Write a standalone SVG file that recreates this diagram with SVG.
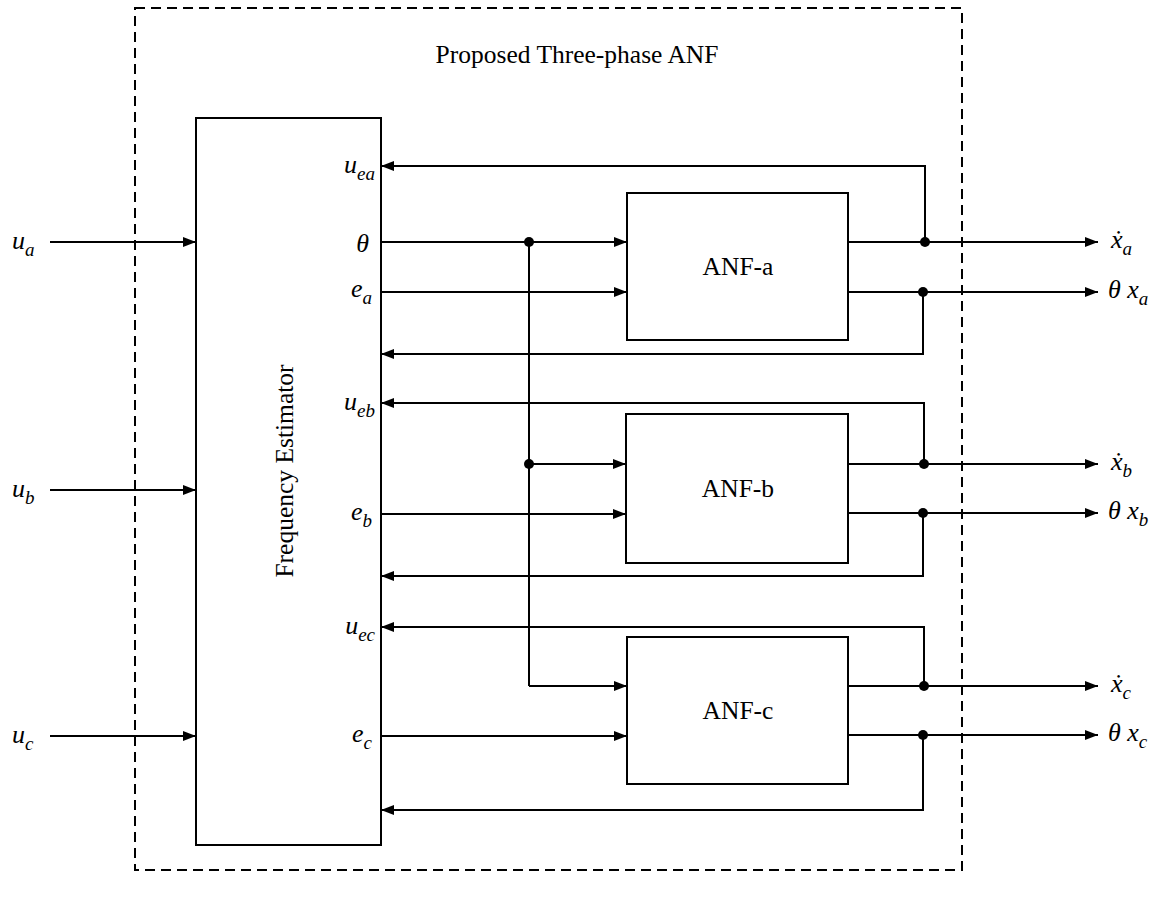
<svg xmlns="http://www.w3.org/2000/svg" width="1161" height="899" viewBox="0 0 1161 899">
<style>
.ln{fill:none;stroke:#000;stroke-width:2}
.bx{fill:#fff;stroke:#000;stroke-width:2}
.ar{marker-end:url(#ah)}
.t{font-family:"Liberation Serif","Times New Roman",serif;font-size:25.5px;fill:#000}
.m{font-family:"Liberation Serif","Times New Roman",serif;font-style:italic;font-size:26px;fill:#000}
.s{font-size:19px}
.e{text-anchor:end}
</style>
<defs>
<marker id="ah" markerUnits="userSpaceOnUse" markerWidth="14" markerHeight="12" refX="13" refY="5" orient="auto">
<path d="M0,0 L13,5 L0,10 z" fill="#000"/>
</marker>
</defs>
<rect width="1161" height="899" fill="#fff"/>
<g id="boundary">
<rect x="135" y="8" width="827" height="862" fill="none" stroke="#000" stroke-width="2" stroke-dasharray="10,6"/>
<text class="t" x="577" y="63" text-anchor="middle">Proposed Three-phase ANF</text>
</g>
<g id="freq-est">
<rect class="bx" x="196" y="118" width="185" height="727"/>
<text class="t" transform="translate(293,471) rotate(-90)" text-anchor="middle">Frequency Estimator</text>
</g>
<g id="anf-a">
<rect class="bx" x="627" y="193" width="221" height="147"/>
<text class="t" x="738" y="275" text-anchor="middle">ANF-a</text>
</g>
<g id="anf-b">
<rect class="bx" x="626" y="414" width="222" height="149"/>
<text class="t" x="738" y="497" text-anchor="middle">ANF-b</text>
</g>
<g id="anf-c">
<rect class="bx" x="627" y="637" width="221" height="147"/>
<text class="t" x="738" y="719" text-anchor="middle">ANF-c</text>
</g>
<g id="connectors">
<path class="ln ar" d="M50,242 H196"/>
<path class="ln ar" d="M50,490 H196"/>
<path class="ln ar" d="M50,736 H196"/>
<path class="ln ar" d="M381,242 H627"/>
<path class="ln" d="M529,242 V686"/>
<path class="ln ar" d="M529,464 H626"/>
<path class="ln ar" d="M529,686 H627"/>
<path class="ln ar" d="M381,292 H627"/>
<path class="ln ar" d="M381,514 H626"/>
<path class="ln ar" d="M381,736 H627"/>
<path class="ln ar" d="M848,242 H1098"/>
<path class="ln ar" d="M848,292 H1098"/>
<path class="ln ar" d="M848,464 H1098"/>
<path class="ln ar" d="M848,513 H1098"/>
<path class="ln ar" d="M848,686 H1098"/>
<path class="ln ar" d="M848,735 H1098"/>
<path class="ln ar" d="M925,242 V166 H381"/>
<path class="ln ar" d="M923,292 V354 H381"/>
<path class="ln ar" d="M924,464 V403 H381"/>
<path class="ln ar" d="M923,513 V576 H381"/>
<path class="ln ar" d="M924,686 V627 H381"/>
<path class="ln ar" d="M923,735 V810 H381"/>
<g fill="#000">
<circle cx="529" cy="242" r="5"/>
<circle cx="529" cy="464" r="5"/>
<circle cx="925" cy="242" r="5"/>
<circle cx="923" cy="292" r="5"/>
<circle cx="924" cy="464" r="5"/>
<circle cx="923" cy="513" r="5"/>
<circle cx="924" cy="686" r="5"/>
<circle cx="923" cy="735" r="5"/>
</g>
</g>
<g id="labels">
<text class="m" x="12" y="249">u<tspan class="s" dy="7">a</tspan></text>
<text class="m" x="12" y="497">u<tspan class="s" dy="7">b</tspan></text>
<text class="m" x="12" y="743">u<tspan class="s" dy="7">c</tspan></text>
<text class="m e" x="375" y="173">u<tspan class="s" dy="7">ea</tspan></text>
<text class="m e" x="369" y="252">θ</text>
<text class="m e" x="372" y="297">e<tspan class="s" dy="7">a</tspan></text>
<text class="m e" x="375" y="410">u<tspan class="s" dy="7">eb</tspan></text>
<text class="m e" x="372" y="520">e<tspan class="s" dy="7">b</tspan></text>
<text class="m e" x="375" y="634">u<tspan class="s" dy="7">ec</tspan></text>
<text class="m e" x="372" y="742">e<tspan class="s" dy="7">c</tspan></text>
<text class="m" x="1111" y="248">ẋ<tspan class="s" dy="7">a</tspan></text>
<text class="m" x="1108" y="298">θ x<tspan class="s" dy="7">a</tspan></text>
<text class="m" x="1111" y="470">ẋ<tspan class="s" dy="7">b</tspan></text>
<text class="m" x="1108" y="519">θ x<tspan class="s" dy="7">b</tspan></text>
<text class="m" x="1111" y="692">ẋ<tspan class="s" dy="7">c</tspan></text>
<text class="m" x="1108" y="741">θ x<tspan class="s" dy="7">c</tspan></text>
</g>
</svg>
